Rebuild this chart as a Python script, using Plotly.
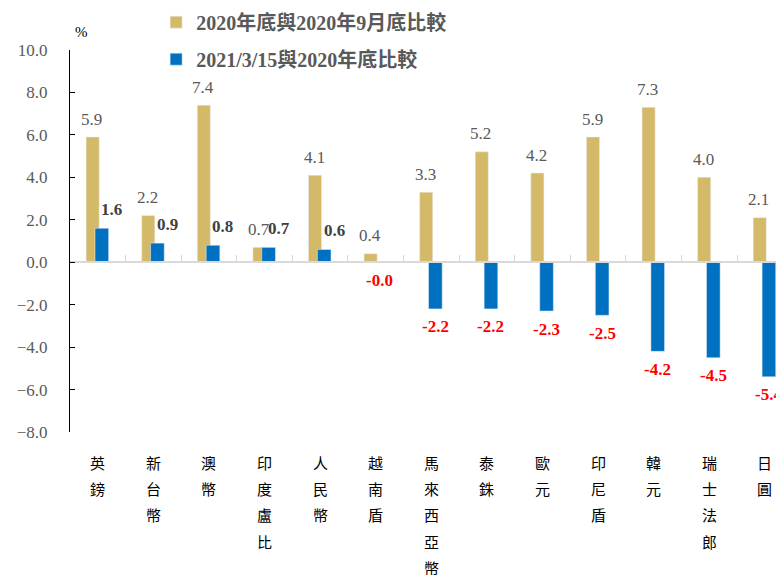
import plotly.graph_objects as go

categories = ['英鎊', '新台幣', '澳幣', '印度盧比', '人民幣', '越南盾', '馬來西亞幣',
              '泰銖', '歐元', '印尼盾', '韓元', '瑞士法郎', '日圓']
series1_name = '2020年底與2020年9月底比較'
series2_name = '2021/3/15與2020年底比較'
series1 = [5.9, 2.2, 7.4, 0.7, 4.1, 0.4, 3.3, 5.2, 4.2, 5.9, 7.3, 4.0, 2.1]
series2 = [1.6, 0.9, 0.8, 0.7, 0.6, -0.02, -2.2, -2.2, -2.3, -2.5, -4.2, -4.5, -5.4]
y_ticks = [-8, -6, -4, -2, 0, 2, 4, 6, 8, 10]

GOLD = '#D4BA68'
BLUE = '#0070C0'
SERIF = 'Liberation Serif, Noto Sans CJK TC'

fig = go.Figure()
fig.add_trace(go.Bar(x=categories, y=series1, name=series1_name, marker_color=GOLD,
                     offset=-0.21, width=0.235, legendgroup='a'))
fig.add_trace(go.Bar(x=categories, y=series2, name=series2_name, marker_color=BLUE,
                     offset=-0.05, width=0.245, legendgroup='b'))

ann = []
for c, v in zip(categories, series1):
    ann.append(dict(x=c, y=v, xref='x', yref='y', text=f'{v:.1f}', showarrow=False,
                    yshift=18, xshift=-6, font=dict(family=SERIF, size=17, color='#595959')))
for c, v in zip(categories, series2):
    if v >= 0:
        ann.append(dict(x=c, y=v, xref='x', yref='y', text=f'<b>{v:.1f}</b>', showarrow=False,
                        yshift=19, xshift=14, font=dict(family=SERIF, size=17, color='#404040')))
    else:
        ann.append(dict(x=c, y=v, xref='x', yref='y', text=f'<b>{v:.1f}</b>', showarrow=False,
                        yshift=-18, xshift=4, font=dict(family=SERIF, size=17, color='#FF0000')))
# vertical category labels
for c in categories:
    for i, ch in enumerate(c):
        ann.append(dict(x=c, y=0, xref='x', yref='paper', text=ch, showarrow=False,
                        yanchor='middle', yshift=-30.5 - 26.2 * i,
                        font=dict(family='Noto Sans CJK TC', size=15, color='#000000')))
ann.append(dict(x=0.016, y=1.048, xref='paper', yref='paper', text='%', showarrow=False,
                xanchor='center', yanchor='middle',
                font=dict(family=SERIF, size=15, color='#000000')))

fig.update_layout(
    width=776, height=575,
    margin=dict(l=70, r=0, t=49.5, b=143, pad=0, autoexpand=False),
    plot_bgcolor='white', paper_bgcolor='white',
    barmode='overlay',
    showlegend=True,
    legend=dict(x=0.122, y=1.124, xanchor='left', yanchor='top', traceorder='grouped',
                tracegroupgap=8, font=dict(family=SERIF, size=20, color='#595959', weight='bold'),
                itemwidth=30, bgcolor='rgba(0,0,0,0)'),
    annotations=ann,
    xaxis=dict(type='category', range=[-0.5, 12.2], anchor='free', position=8 / 18,
               showline=True, linecolor='#D9D9D9', linewidth=1.5,
               ticks='inside', ticklen=6, tickcolor='#D9D9D9', tickwidth=1,
               tickson='boundaries', showticklabels=False, showgrid=False, zeroline=False,
               automargin=False),
    yaxis=dict(range=[-8, 10], tickvals=y_ticks, tickformat='.1f', showgrid=False,
               zeroline=False, showline=True, linecolor='#000000', linewidth=1,
               ticks='inside', ticklen=5, tickcolor='#000000',
               ticklabelstandoff=18, automargin=False,
               tickfont=dict(family=SERIF, size=17, color='#595959')),
)
fig.write_html('out.html', config={'displayModeBar': False},
               post_script="document.body.style.margin='0';document.body.style.overflow='hidden';")
